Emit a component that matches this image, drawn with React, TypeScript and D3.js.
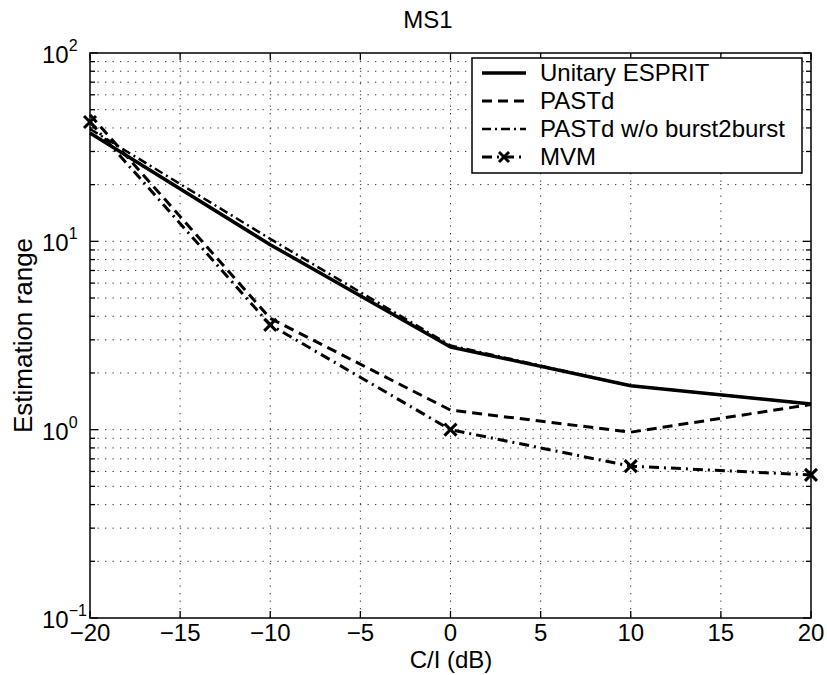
import React from "react";
import * as d3 from "d3";

const cValues = [-20, -10, 0, 10, 20];
const unitaryEsprit = [37.6, 9.6, 2.75, 1.71, 1.37];
const pastd = [47, 3.9, 1.27, 0.97, 1.36];
const pastdNoB2B = [39.5, 10.3, 2.8, 1.71, 1.37];
const mvm = [43, 3.6, 1.0, 0.64, 0.575];
const xTicks = [-20, -15, -10, -5, 0, 5, 10, 15, 20];
const yExponents = [-1, 0, 1, 2];
const legendLabels = ["Unitary ESPRIT", "PASTd", "PASTd w/o burst2burst", "MVM"];

const W = 827;
const H = 675;
const L = 90, R = 811, T = 53, B = 618;
const FONT = "'Liberation Sans', Arial, Helvetica, sans-serif";

export default function App() {
  const x = d3.scaleLinear().domain([-20, 20]).range([L, R]);
  const y = d3.scaleLog().domain([0.1, 100]).range([B, T]);
  const line = d3
    .line<[number, number]>()
    .x((d) => x(d[0]))
    .y((d) => y(d[1]));
  const pts = (vals: number[]) => cValues.map((c, i) => [c, vals[i]] as [number, number]);

  const minorVals: number[] = [];
  for (let e = -1; e < 2; e++) {
    for (let m = 2; m <= 9; m++) minorVals.push(m * Math.pow(10, e));
  }
  const majorVals = yExponents.map((e) => Math.pow(10, e));

  const styles = [
    { dash: "none", w: 3.5 },
    { dash: "10,6", w: 3 },
    { dash: "9,4,2,4", w: 2.5 },
    { dash: "10,5,2,5", w: 3 },
  ];
  const series = [unitaryEsprit, pastd, pastdNoB2B, mvm];

  const marker = (cx: number, cy: number, k: string | number, s = 6) => (
    <g key={k} stroke="#000" strokeWidth={3}>
      <line x1={cx - s} y1={cy - s} x2={cx + s} y2={cy + s} />
      <line x1={cx - s} y1={cy + s} x2={cx + s} y2={cy - s} />
    </g>
  );

  const gridStyle = { stroke: "#333", strokeWidth: 1, strokeDasharray: "1.3,6.2" };

  const legX = 472, legY = 58, legW = 330, legH = 115;
  const rowY = [73, 101, 129, 157];

  return (
    <svg
      width={W}
      height={H}
      style={{ position: "absolute", left: 0, top: 0, background: "#fff" }}
      fontFamily={FONT}
    >
      <rect x={0} y={0} width={W} height={H} fill="#fff" />
      {/* grid */}
      {xTicks.slice(1, -1).map((t) => (
        <line key={"gx" + t} x1={x(t)} x2={x(t)} y1={T} y2={B} {...gridStyle} />
      ))}
      {[...minorVals, ...majorVals.slice(1, -1)].map((v, i) => (
        <line key={"gy" + i} x1={L} x2={R} y1={y(v)} y2={y(v)} {...gridStyle} />
      ))}

      {/* series lines */}
      {[2, 1, 3, 0].map((si) => (
        <path
          key={"s" + si}
          d={line(pts(series[si])) || ""}
          fill="none"
          stroke="#000"
          strokeWidth={styles[si].w}
          strokeDasharray={styles[si].dash}
          strokeLinejoin="round"
        />
      ))}
      {pts(mvm).map((p, i) => marker(x(p[0]), y(p[1]), "m" + i))}

      {/* axes box */}
      <rect x={L} y={T} width={R - L} height={B - T} fill="none" stroke="#000" strokeWidth={1.5} />
      {xTicks.map((t) => (
        <g key={"tx" + t} stroke="#000" strokeWidth={1.3}>
          <line x1={x(t)} x2={x(t)} y1={B} y2={B - 7} />
          <line x1={x(t)} x2={x(t)} y1={T} y2={T + 7} />
        </g>
      ))}
      {minorVals.map((v, i) => (
        <g key={"tym" + i} stroke="#000" strokeWidth={1.3}>
          <line x1={L} x2={L + 5} y1={y(v)} y2={y(v)} />
          <line x1={R} x2={R - 5} y1={y(v)} y2={y(v)} />
        </g>
      ))}
      {majorVals.map((v, i) => (
        <g key={"tyM" + i} stroke="#000" strokeWidth={1.3}>
          <line x1={L} x2={L + 8} y1={y(v)} y2={y(v)} />
          <line x1={R} x2={R - 8} y1={y(v)} y2={y(v)} />
        </g>
      ))}

      {/* tick labels */}
      {xTicks.map((t) => (
        <text key={"lx" + t} x={x(t)} y={641} textAnchor="middle" fontSize={24} fill="#000">
          {t < 0 ? "\u2212" + Math.abs(t) : String(t)}
        </text>
      ))}
      {yExponents.map((e) => (
        <text key={"ly" + e} x={42} y={y(Math.pow(10, e)) + 10} fontSize={24} fill="#000">
          10
          <tspan dy={-12} fontSize={16}>
            {e < 0 ? "\u2212" + Math.abs(e) : String(e)}
          </tspan>
        </text>
      ))}

      {/* axis labels and title */}
      <text x={451} y={668} textAnchor="middle" fontSize={24} fill="#000">
        C/I (dB)
      </text>
      <text
        transform={`translate(32,${(T + B) / 2}) rotate(-90)`}
        textAnchor="middle"
        fontSize={26}
        fill="#000"
      >
        Estimation range
      </text>
      <text x={428} y={28} textAnchor="middle" fontSize={24} fill="#000">
        MS1
      </text>

      {/* legend */}
      <rect x={legX} y={legY} width={legW} height={legH} fill="#fff" stroke="#000" strokeWidth={1.5} />
      {legendLabels.map((lab, i) => (
        <g key={"lg" + i}>
          <line
            x1={482}
            x2={526}
            y1={rowY[i]}
            y2={rowY[i]}
            stroke="#000"
            strokeWidth={styles[i].w}
            strokeDasharray={styles[i].dash}
          />
          {i === 3 && marker(504, rowY[i], "lm", 5)}
          <text x={540} y={rowY[i] + 8} fontSize={24} fill="#000">
            {lab}
          </text>
        </g>
      ))}
    </svg>
  );
}
